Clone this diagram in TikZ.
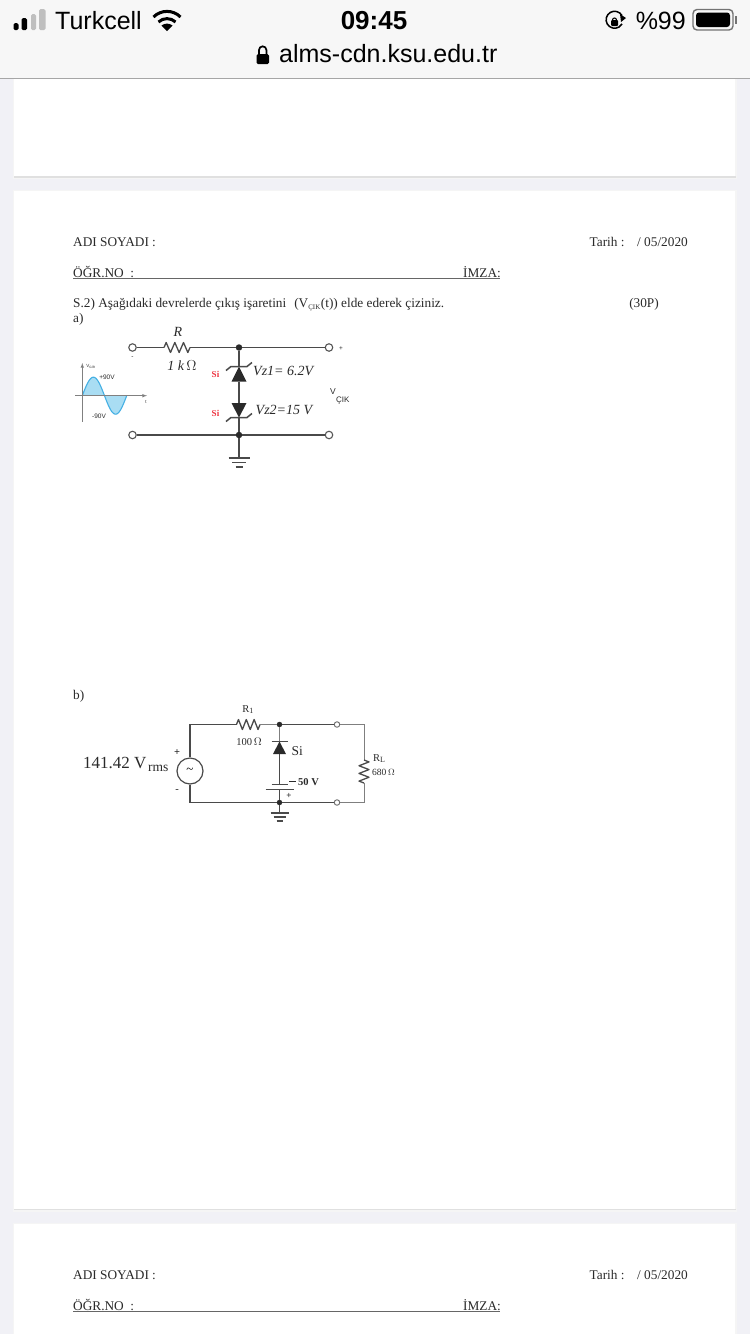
\documentclass[tikz,border=0pt]{standalone}
\usepackage{fontspec}
\setmainfont{Liberation Serif}
\setsansfont{Liberation Sans}
\usetikzlibrary{calc}
\definecolor{pagebg}{HTML}{F1F1F6}
\definecolor{barbg}{HTML}{F7F7F7}
\definecolor{ink}{HTML}{2A2A2A}
\definecolor{wave}{HTML}{A9DDF3}
\definecolor{waveline}{HTML}{45B0E4}
\definecolor{sired}{HTML}{EE3340}
\tikzset{
  x=1pt,y=-1pt,
  doc/.style={anchor=base west,inner sep=0pt,font=\fontsize{13.3}{15}\selectfont,text=ink},
  docr/.style={doc,anchor=base east},
  ui/.style={anchor=base west,inner sep=0pt,font=\sffamily\fontsize{25}{28}\selectfont,text=black},
  wire/.style={draw=ink!85,line width=1.3pt},
  thinwire/.style={draw=ink!60,line width=1pt},
  term/.style={circle,draw=ink!80,fill=white,line width=1.1pt,minimum size=7.5pt,inner sep=0pt},
  termb/.style={circle,draw=ink!70,fill=white,line width=.9pt,minimum size=5.5pt,inner sep=0pt},
  junc/.style={circle,fill=ink,minimum size=6.5pt,inner sep=0pt},
  ital/.style={anchor=base,inner sep=0pt,font=\itshape\fontsize{14}{16}\selectfont,text=ink},
  lab/.style={anchor=base,inner sep=0pt,font=\fontsize{10.5}{12}\selectfont,text=ink},
  si/.style={anchor=base,inner sep=0pt,font=\bfseries\fontsize{9}{10}\selectfont,text=sired},
  tiny/.style={anchor=base,inner sep=0pt,font=\sffamily\fontsize{6.5}{7}\selectfont,text=ink},
  card/.style={fill=white,draw=none},
}
\newcommand{\hzig}[3]{\draw[wire,line join=round] (#1) -- ++(#3/12,-5) -- ++(#3/6,10) -- ++(#3/6,-10) -- ++(#3/6,10) -- ++(#3/6,-10) -- ++(#3/6,10) -- (#2);}
\newcommand{\vzig}[3]{\draw[wire,line join=round] (#1) -- ++(5,#3/12) -- ++(-10,#3/6) -- ++(10,#3/6) -- ++(-10,#3/6) -- ++(10,#3/6) -- ++(-10,#3/6) -- (#2);}
\begin{document}
\begin{tikzpicture}
\useasboundingbox (0,0) rectangle (750,1334);
\fill[pagebg] (0,0) rectangle (750,1334);
% cards
\foreach \a/\b in {78/176,191/1208.5,1224/1334}{
  \fill[black!4] (12.5,\a-1.5) rectangle (736.5,\b+3);
  \fill[black!12] (13.5,\b) rectangle (735.5,\b+1.5);
  \fill[card] (14,\a) rectangle (735,\b);
}
% browser bar
\fill[barbg] (0,0) rectangle (750,78);
\draw[black!35,line width=1pt] (0,78.5) -- (750,78.5);
% status bar
\fill[black,rounded corners=1.5pt] (13.5,23) rectangle (18.5,30);
\fill[black,rounded corners=1.5pt] (21.5,18) rectangle (27,30);
\fill[black!25,rounded corners=1.5pt] (31,14) rectangle (36,30);
\fill[black!25,rounded corners=1.5pt] (39,9) rectangle (45.5,30);
\node[ui] (carrier) at (55,29) {Turkcell};
\begin{scope}[line width=3pt,black]
 \draw (153.5,17) .. controls (161,9.5) and (173,9.5) .. (180.5,17);
 \draw (158.5,22) .. controls (163,17.5) and (171,17.5) .. (175.5,22);
 \fill (167,31) -- (161.5,25.5) .. controls (164.5,23) and (169.5,23) .. (172.5,25.5) -- cycle;
\end{scope}
\node[ui,anchor=base,font=\sffamily\bfseries\fontsize{26}{28}\selectfont] (clock) at (374,29) {09:45};
\node[ui,anchor=base east] (pct) at (686,29) {\%99};
\draw[black,line width=1.5pt] (622,15.5) arc (-30:-330:8.5);
\fill[black] (620,14) -- (626,18) -- (621,22) -- cycle;
\fill[black,rounded corners=1pt] (611,20) rectangle (618,26);
\draw[black,line width=1.1pt] (612.5,20) arc (180:360:2);
\draw[black!55,line width=1.4pt,rounded corners=4pt] (693,9.5) rectangle (733,30);
\fill[black,rounded corners=3pt] (696,12.5) rectangle (730,27);
\fill[black!55] (735,16) rectangle (736.5,24);
\fill[black,rounded corners=1.5pt] (256.5,54) rectangle (269,64);
\draw[black,line width=1.7pt] (259,55) -- (259,50) arc (180:360:3.7) -- (266.4,55);
\node[ui] (url) at (279,62) {alms-cdn.ksu.edu.tr};
% form header
\node[doc] (name) at (73,246) {ADI SOYADI :};
\node[docr] (date) at (688,246) {Tarih :\hspace{.95em}/ 05/2020};
\node[doc] (no) at (73,277) {ÖĞR.NO\hspace{.25em} :};
\node[doc] (sign) at (463,277) {İMZA:};
\draw[black!60,line width=.9pt] (73,278) -- (500,278);
\node[doc] (q) at (73,307) {S.2) Aşağıdaki devrelerde çıkış işaretini\hspace{.35em} (V\textsubscript{\fontsize{7}{7}\selectfont ÇIK}(t)) elde ederek çiziniz.};
\node[docr] (pts) at (659,307) {(30P)};
\node[doc] (a) at (73,322) {a)};
\node[doc] (b) at (73,699) {b)};
\node[doc] (name2) at (73,1279) {ADI SOYADI :};
\node[docr] (date2) at (688,1279) {Tarih :\hspace{.95em}/ 05/2020};
\node[doc] (no2) at (73,1310) {ÖĞR.NO\hspace{.25em} :};
\node[doc] (sign2) at (463,1310) {İMZA:};
\draw[black!60,line width=.9pt] (73,1311) -- (500,1311);
% ===== circuit a
\node[term] (t1) at (132.5,347.5) {};
\node[term] (t2) at (329,347.5) {};
\node[term] (t3) at (132.5,435) {};
\node[term] (t4) at (329,435) {};
\node[junc] (j1) at (239,347.5) {};
\node[junc] (j2) at (239,435) {};
\coordinate (ra) at (164,347.5);
\coordinate (rb) at (190,347.5);
\coordinate (z1top) at (239,366.5);
\coordinate (z1base) at (239,381.5);
\coordinate (z2base) at (239,403);
\coordinate (z2tip) at (239,417.5);
\coordinate (ga) at (239,458);
\draw[wire] (t1) -- (ra);
\hzig{ra}{rb}{26}
\draw[wire] (rb) -- (j1) -- (t2);
\draw[wire] (t3) -- (j2) -- (t4);
\draw[wire] (j1) -- (z1top);
\draw[wire] (z1base) -- (z2base);
\draw[wire] (z2tip) -- (j2) -- (ga);
\fill[ink] (z1top) -- ($(z1base)+(-7.5,0)$) -- ($(z1base)+(7.5,0)$) -- cycle;
\fill[ink] (z2tip) -- ($(z2base)+(-7.5,0)$) -- ($(z2base)+(7.5,0)$) -- cycle;
\draw[wire,line width=1.5pt] ($(z1top)+(-13,4)$) -- ($(z1top)+(-8,0)$) -- ($(z1top)+(8,0)$) -- ($(z1top)+(13,-4)$);
\draw[wire,line width=1.5pt] ($(z2tip)+(-13,4)$) -- ($(z2tip)+(-8,0)$) -- ($(z2tip)+(8,0)$) -- ($(z2tip)+(13,-4)$);
\draw[wire,line width=1.6pt] ($(ga)+(-10.5,0)$) -- ($(ga)+(10.5,0)$);
\draw[wire,line width=1.6pt] ($(ga)+(-7,4.5)$) -- ($(ga)+(7,4.5)$);
\draw[wire,line width=1.6pt] ($(ga)+(-3.5,9)$) -- ($(ga)+(3.5,9)$);
\node[ital] (rn) at (178,336) {R};
\node[ital] (rv) at (182,370) {1 k\,$\Omega$};
\node[ital,anchor=base west] (vz1) at (253,375) {Vz1= 6.2V};
\node[ital,anchor=base west] (vz2) at (255.5,414) {Vz2=15 V};
\node[si] (s1) at (215.5,377) {Si};
\node[si] (s2) at (215.5,416) {Si};
\node[tiny,font=\sffamily\fontsize{8.5}{10}\selectfont,anchor=base west] (vo) at (330,394) {V};
\node[tiny,font=\sffamily\fontsize{8}{10}\selectfont,anchor=base west] (vosub) at (336,402.5) {ÇIK};
\node[tiny] (pl) at (341,350) {+};
\node[tiny] (mn) at (132.5,358) {-};
% waveform
\fill[wave] (82.3,395.7) -- plot[domain=0:360,samples=60] ({82.3+\x*44.4/360},{395.7-18.5*sin(\x)}) -- cycle;
\draw[waveline,line width=1.1pt] plot[domain=0:360,samples=60] ({82.3+\x*44.4/360},{395.7-18.5*sin(\x)});
\coordinate (ax0) at (75,395.7);
\coordinate (ax1) at (147,395.7);
\coordinate (ay0) at (82.3,421.5);
\coordinate (ay1) at (82.3,363);
\draw[black!50,line width=.6pt,-latex] (ax0) -- (ax1);
\draw[black!50,line width=.6pt,-latex] (ay0) -- (ay1);
\node[tiny,font=\sffamily\fontsize{4.5}{5}\selectfont] (vgir) at (91,367) {V\textsubscript{GİR}};
\node[tiny] (p90) at (107,379) {+90V};
\node[tiny] (m90) at (99,418.5) {-90V};
\node[tiny,font=\sffamily\fontsize{4.5}{5}\selectfont] (tt) at (146,403) {t};
% ===== circuit b
\coordinate (bl) at (190,724.5);
\coordinate (blb) at (190,802.5);
\coordinate (br) at (364,724.5);
\coordinate (brb) at (364,802.5);
\node[termb] (t5) at (337,724.5) {};
\node[termb] (t6) at (337,802.5) {};
\node[junc,minimum size=5.5pt] (j3) at (279.5,724.5) {};
\node[junc,minimum size=5.5pt] (j4) at (279.5,802.5) {};
\node[circle,draw=ink!85,line width=1.2pt,minimum size=26pt,inner sep=0pt,font=\fontsize{13}{13}\selectfont] (src) at (190,771) {\raisebox{1pt}{\textasciitilde}};
\coordinate (r1a) at (236.5,724.5);
\coordinate (r1b) at (260,724.5);
\coordinate (rla) at (364,760);
\coordinate (rlb) at (364,783);
\coordinate (dtip) at (279.5,741.5);
\coordinate (dbase) at (279.5,754);
\coordinate (bat1) at (279.5,784.5);
\coordinate (bat2) at (279.5,789.5);
\coordinate (gb) at (279.5,813);
\draw[wire] (src) -- (bl) -- (r1a);
\hzig{r1a}{r1b}{23.5}
\draw[thinwire] (r1b) -- (j3);
\draw[wire,line width=1.6pt] (j3) -- (t5);
\draw[thinwire] (t5) -- (br) -- (rla);
\vzig{rla}{rlb}{23}
\draw[thinwire] (rlb) -- (brb) -- (t6);
\draw[wire,line width=1.6pt] (t6) -- (j4);
\draw[wire] (j4) -- (blb) -- (src);
\draw[thinwire] (j3) -- (dtip);
\fill[ink] (dtip) -- ($(dbase)+(-6.5,0)$) -- ($(dbase)+(6.5,0)$) -- cycle;
\draw[wire] ($(dtip)+(-8,0)$) -- ($(dtip)+(8,0)$);
\draw[wire,line width=1.6pt] (dbase) -- (bat1);
\draw[wire] ($(bat1)+(-8,0)$) -- ($(bat1)+(8,0)$);
\draw[wire] ($(bat2)+(-14,0)$) -- ($(bat2)+(14,0)$);
\draw[wire] (bat2) -- (j4) -- (gb);
\draw[wire,line width=1.5pt] ($(gb)+(-9,0)$) -- ($(gb)+(9,0)$);
\draw[wire,line width=1.5pt] ($(gb)+(-6,4)$) -- ($(gb)+(6,4)$);
\draw[wire,line width=1.5pt] ($(gb)+(-3,8)$) -- ($(gb)+(3,8)$);
\node[lab] (r1n) at (248,712) {R\textsubscript{\fontsize{8}{8}\selectfont 1}};
\node[lab] (r1v) at (249,745) {100\,$\Omega$};
\node[lab,anchor=base west,font=\fontsize{13.5}{15}\selectfont] (sib) at (291.5,755) {Si};
\node[lab,anchor=base west,font=\bfseries\fontsize{10.5}{11}\selectfont] (v50) at (298,785) {50 V};
\fill[ink] (289,780.5) rectangle (296,782);
\node[lab,font=\bfseries\fontsize{9}{10}\selectfont] (batp) at (289,798) {+};
\node[lab,anchor=base west] (rln) at (373,761) {R\textsubscript{\fontsize{8}{8}\selectfont L}};
\node[lab,anchor=base west,font=\fontsize{9.5}{11}\selectfont] (rlv) at (372,775) {680\,$\Omega$};
\node[lab,anchor=base west,font=\fontsize{17}{19}\selectfont] (vrms) at (83,768) {141.42 V};
\node[lab,anchor=base west,font=\fontsize{13.5}{15}\selectfont] (rms) at (148,771) {rms};
\node[lab] (sp) at (177,755) {\textbf{+}};
\node[lab] (sm) at (177,792) {-};
\end{tikzpicture}
\end{document}
